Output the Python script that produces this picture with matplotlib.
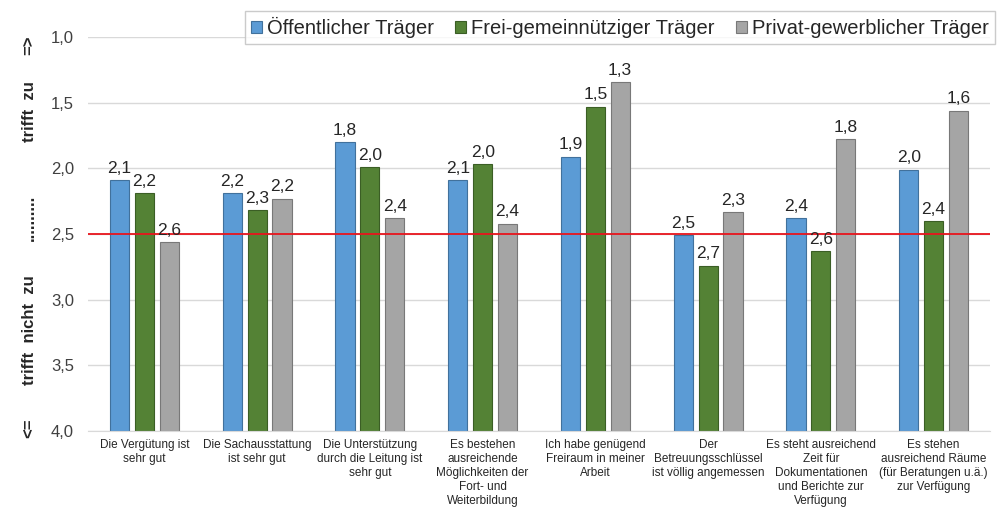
import matplotlib
matplotlib.use("Agg")
import matplotlib.pyplot as plt
import numpy as np

categories = [
    "Die Vergütung ist\nsehr gut",
    "Die Sachausstattung\nist sehr gut",
    "Die Unterstützung\ndurch die Leitung ist\nsehr gut",
    "Es bestehen\nausreichende\nMöglichkeiten der\nFort- und\nWeiterbildung",
    "Ich habe genügend\nFreiraum in meiner\nArbeit",
    "Der\nBetreuungsschlüssel\nist völlig angemessen",
    "Es steht ausreichend\nZeit für\nDokumentationen\nund Berichte zur\nVerfügung",
    "Es stehen\nausreichend Räume\n(für Beratungen u.ä.)\nzur Verfügung",
]
series_names = ["Öffentlicher Träger", "Frei-gemeinnütziger Träger", "Privat-gewerblicher Träger"]
oeffentlich = [2.09, 2.19, 1.80, 2.09, 1.91, 2.51, 2.38, 2.01]
frei = [2.19, 2.32, 1.99, 1.97, 1.53, 2.74, 2.63, 2.40]
privat = [2.56, 2.23, 2.38, 2.42, 1.34, 2.33, 1.78, 1.56]
yticks = [1.0, 1.5, 2.0, 2.5, 3.0, 3.5, 4.0]
threshold = 2.5

plt.rcParams['font.family'] = ['Liberation Sans', 'DejaVu Sans']

fig = plt.figure(figsize=(10, 5.25), dpi=100)
ax = fig.add_axes([0.088, 0.179, 0.902, 0.7505])

colors = ["#5B9BD5", "#548235", "#A5A5A5"]
edges = ["#41719C", "#3B5E25", "#787878"]
x = np.arange(len(categories))
offs = [-0.22, 0.0, 0.22]
w = 0.17
base = 4.0
for s, (vals, c, e, name) in enumerate(zip([oeffentlich, frei, privat], colors, edges, series_names)):
    vals = np.array(vals)
    ax.bar(x + offs[s], vals - base, bottom=base, width=w, color=c, edgecolor=e,
           linewidth=0.8, label=name, zorder=2)
    for xi, v in zip(x + offs[s], vals):
        ax.annotate(f"{v:.1f}".replace(".", ","), xy=(xi, v), xytext=(0, 3),
                    textcoords="offset points", ha="center", va="bottom",
                    fontsize=12.5, color="#262626", zorder=4)

ax.axhline(threshold, color="#E8141C", lw=1.3, zorder=3)

ax.set_ylim(4.0, 1.0)
ax.set_xlim(-0.5, len(categories) - 0.5)
ax.set_yticks(yticks)
ax.set_yticklabels([f"{t:.1f}".replace(".", ",") for t in yticks], fontsize=12, color="#404040")
ax.yaxis.grid(True, color="#D9D9D9", lw=1.0, zorder=0)
ax.set_axisbelow(True)
ax.tick_params(axis='y', length=0, pad=10)
ax.tick_params(axis='x', length=0, pad=6)
ax.set_xticks(x)
ax.set_xticklabels(categories, fontsize=8.5, color="#262626", linespacing=1.2, va="top")
for sp in ["top", "right", "left"]:
    ax.spines[sp].set_visible(False)
ax.spines["bottom"].set_color("#D9D9D9")

leg = ax.legend(loc="upper right", bbox_to_anchor=(1.0055, 1.066), ncol=3, fontsize=14.5,
                frameon=True, fancybox=False, edgecolor="#BFBFBF", handlelength=0.55,
                handleheight=0.55, handletextpad=0.25, columnspacing=1.05, borderpad=0.3,
                borderaxespad=0)
leg.get_frame().set_linewidth(1.0)
for t in leg.get_texts():
    t.set_color("#262626")

lab_kw = dict(rotation=90, ha="center", va="center", fontsize=12, fontweight="bold", color="#262626")
fig.text(0.029, 1 - 45 / 525, "=>", **lab_kw)
fig.text(0.029, 1 - 112 / 525, "trifft  zu", **lab_kw)
fig.text(0.029, 1 - 218 / 525, "..........", **lab_kw)
fig.text(0.029, 1 - 330 / 525, "trifft  nicht  zu", **lab_kw)
fig.text(0.029, 1 - 428 / 525, "<=", **lab_kw)

fig.savefig("out.png", dpi=100)
